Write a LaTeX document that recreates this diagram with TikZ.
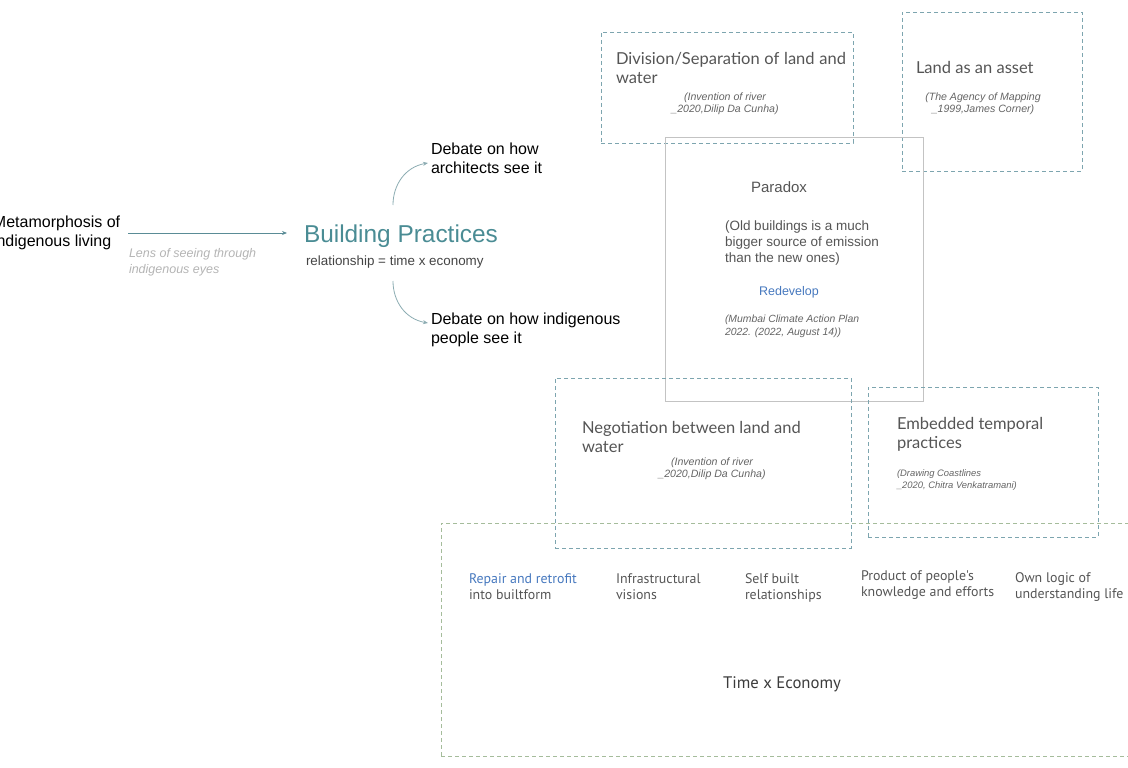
\documentclass[tikz,border=0pt]{standalone}
\usepackage{fontspec}
\setmainfont{Liberation Sans}
\newfontfamily\titlefont{Lato}
\newfontfamily\condfont{PT Sans}
\usetikzlibrary{arrows.meta}
\definecolor{bpteal}{RGB}{74,140,148}
\definecolor{arrowteal}{RGB}{90,140,150}
\definecolor{curveteal}{RGB}{140,172,178}
\definecolor{dashteal}{RGB}{125,165,175}
\definecolor{dashgreen}{RGB}{165,188,155}
\definecolor{boxgray}{RGB}{195,195,195}
\definecolor{txtgray}{RGB}{85,85,85}
\definecolor{citegray}{RGB}{100,100,100}
\definecolor{lightgray}{RGB}{180,180,180}
\definecolor{linkblue}{RGB}{70,120,190}
\tikzset{
  every node/.style={inner sep=0pt, outer sep=0pt},
  dbox/.style={draw=dashteal, dash pattern=on 4pt off 3pt, line width=0.7pt, anchor=north west},
  gbox/.style={draw=dashgreen, dash pattern=on 4pt off 3pt, line width=0.7pt, anchor=north west},
  sbox/.style={draw=boxgray, line width=0.8pt, anchor=north west},
  heading/.style={font=\titlefont\fontsize{16.5}{19}\selectfont, text=txtgray, align=left, anchor=base west},
  cite/.style={font=\itshape\fontsize{10.6}{12}\selectfont, text=citegray},
  blacktxt/.style={font=\fontsize{16}{19}\selectfont, text=black, align=left, anchor=base west},
  rowtxt/.style={font=\condfont\fontsize{13.9}{16}\selectfont, text=txtgray, align=left, anchor=base west},
  connector/.style={draw=arrowteal, line width=0.8pt, -{Stealth[length=5pt,width=4pt]}},
  curvecon/.style={draw=curveteal, line width=0.8pt, -{Stealth[length=5pt,width=4pt]}},
}
\begin{document}
\begin{tikzpicture}[x=1pt,y=-1pt]
\useasboundingbox (0,0) rectangle (1128,768);
% boxes
\node[gbox, minimum width=700, minimum height=233] (teb) at (441,523) {};
\node[dbox, minimum width=252, minimum height=111] (divb) at (601,32) {};
\node[dbox, minimum width=180, minimum height=159] (landb) at (902,12) {};
\node[sbox, minimum width=258, minimum height=264] (parb) at (665,137) {};
\node[dbox, minimum width=296, minimum height=170] (negb) at (555,378) {};
\node[dbox, minimum width=230, minimum height=150] (embb) at (868,387) {};

% left part
\node[blacktxt] (meta) at (-7,246) {Metamorphosis of\\indigenous living};
\node[font=\itshape\fontsize{12.5}{16}\selectfont, text=lightgray, align=left, anchor=base west] (lens) at (129,273) {Lens of seeing through\\indigenous eyes};
\node[font=\fontsize{24.4}{28}\selectfont, text=bpteal, anchor=base west] (bp) at (304,242) {Building Practices};
\node[font=\fontsize{13.4}{15}\selectfont, text=txtgray!80!black, anchor=base west] (rel) at (306,265) {relationship = time x economy};
\coordinate (a0) at (128,233);
\coordinate (a1) at (287,233);
\draw[connector] (a0) -- (a1);

\node[blacktxt] (deb1) at (431,173) {Debate on how\\architects see it};
\node[blacktxt] (deb2) at (431,343) {Debate on how indigenous\\people see it};
\coordinate (c1s) at (393,205);
\coordinate (c1e) at (428,163);
\coordinate (c2s) at (393,281);
\coordinate (c2e) at (428,323);
\draw[curvecon] (c1s) .. controls (393,185) and (405,167) .. (c1e);
\draw[curvecon] (c2s) .. controls (393,301) and (405,319) .. (c2e);

% division box
\node[heading, text width=230, align=justify] (divt) at (616,65) {Division/Separation of land and water};
\node[cite, align=center, anchor=base] (divc) at (725,112) {(Invention of river\\\_2020,Dilip Da Cunha)};

% land as asset
\node[heading] (landt) at (916,74) {Land as an asset};
\node[cite, align=center, anchor=base] (landc) at (983,112) {(The Agency of Mapping\\\_1999,James Corner)};

% paradox
\node[font=\fontsize{15}{18}\selectfont, text=txtgray, anchor=base] (part) at (779,192) {Paradox};
\node[font=\fontsize{13.5}{16}\selectfont, text=txtgray, align=left, anchor=base west] (pard) at (725,262) {(Old buildings is a much\\bigger source of emission\\than the new ones)};
\node[font=\fontsize{12.5}{15}\selectfont, text=linkblue, anchor=base] (redev) at (789,295) {Redevelop};
\node[cite, font=\itshape\fontsize{10.4}{13}\selectfont, align=left, anchor=base west] (parc) at (725,335) {(Mumbai Climate Action Plan\\2022. (2022, August 14))};

% negotiation
\node[heading] (negt) at (582,452) {Negotiation between land and\\water};
\node[cite, align=center, anchor=base] (negc) at (712,477) {(Invention of river\\\_2020,Dilip Da Cunha)};

% embedded
\node[heading] (embt) at (897,448) {Embedded temporal\\practices};
\node[cite, font=\itshape\fontsize{9.4}{12}\selectfont, align=left, anchor=base west] (embc) at (897,488) {(Drawing Coastlines\\\_2020, Chitra Venkatramani)};

% bottom row
\node[rowtxt] (r1) at (469,599) {\textcolor{linkblue}{Repair and retrofit}\\into builtform};
\node[rowtxt] (r2) at (616,599) {Infrastructural\\visions};
\node[rowtxt] (r3) at (745,599) {Self built\\relationships};
\node[rowtxt] (r4) at (861,596) {Product of people's\\knowledge and efforts};
\node[rowtxt] (r5) at (1015,598) {Own logic of\\understanding life};
\node[font=\condfont\fontsize{16.7}{18}\selectfont, text=txtgray!70!black, anchor=base] (te) at (782,688) {Time x Economy};
\end{tikzpicture}
\end{document}
